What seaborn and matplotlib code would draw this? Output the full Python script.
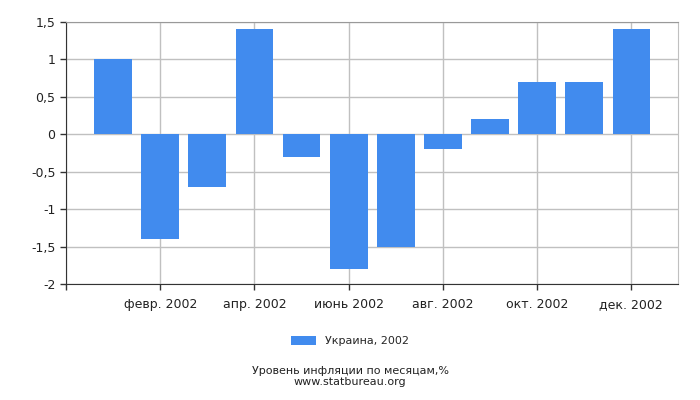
import matplotlib
matplotlib.use("Agg")
import matplotlib.pyplot as plt
import seaborn as sns
import pandas as pd

months = ["янв.", "февр.", "март", "апр.", "май", "июнь",
          "июль", "авг.", "сент.", "окт.", "нояб.", "дек."]
values = [1.0, -1.4, -0.7, 1.4, -0.3, -1.8, -1.5, -0.2, 0.2, 0.7, 0.7, 1.4]
tick_labels = ["", "февр. 2002", "апр. 2002", "июнь 2002",
               "авг. 2002", "окт. 2002", "дек. 2002"]
series_name = "Украина, 2002"

sns.set_style("white")
plt.rcParams['font.family'] = ['DejaVu Sans']

df = pd.DataFrame({"month": months, "value": values})

fig = plt.figure(figsize=(7, 4), dpi=100)
ax = fig.add_axes([66 / 700, 1 - 284 / 400, 612 / 700, 262 / 400])

sns.barplot(data=df, x="month", y="value", color="#418bee", saturation=1,
            width=0.8, ax=ax, label=series_name, linewidth=0, zorder=3)

ax.set_xlim(-0.975, 11.99)
ax.set_ylim(-2, 1.5)
ax.set_yticks([-2, -1.5, -1, -0.5, 0, 0.5, 1, 1.5])
ax.set_yticklabels(["-2", "-1,5", "-1", "-0,5", "0", "0,5", "1", "1,5"])
ax.set_xticks([-1, 1, 3, 5, 7, 9, 11])
ax.set_xticklabels(tick_labels)
ax.set_xlabel("")
ax.set_ylabel("")
ax.grid(True, color="#c0c0c0", linewidth=1, zorder=0)
ax.set_axisbelow(True)
ax.tick_params(axis="both", bottom=True, left=True, length=4, width=1,
               color="#333333", labelsize=9, labelcolor="#222222",
               direction="out")
ax.tick_params(axis="x", pad=6)
ax.spines["left"].set_color("#333333")
ax.spines["bottom"].set_color("#333333")
ax.spines["top"].set_color("#999999")
ax.spines["right"].set_color("#c0c0c0")
if ax.get_legend() is not None:
    ax.get_legend().remove()

handles, labels = ax.get_legend_handles_labels()
fig.legend(handles, labels, loc="center", bbox_to_anchor=(0.5, 1 - 341 / 400),
           frameon=False, fontsize=8, handlelength=2.2, handleheight=0.9)
fig.text(0.5, 1 - 371 / 400, "Уровень инфляции по месяцам,%", ha="center",
         va="center", fontsize=8, color="#222222")
fig.text(0.5, 1 - 382 / 400, "www.statbureau.org", ha="center",
         va="center", fontsize=8, color="#222222")

fig.savefig("out.png", dpi=100)
